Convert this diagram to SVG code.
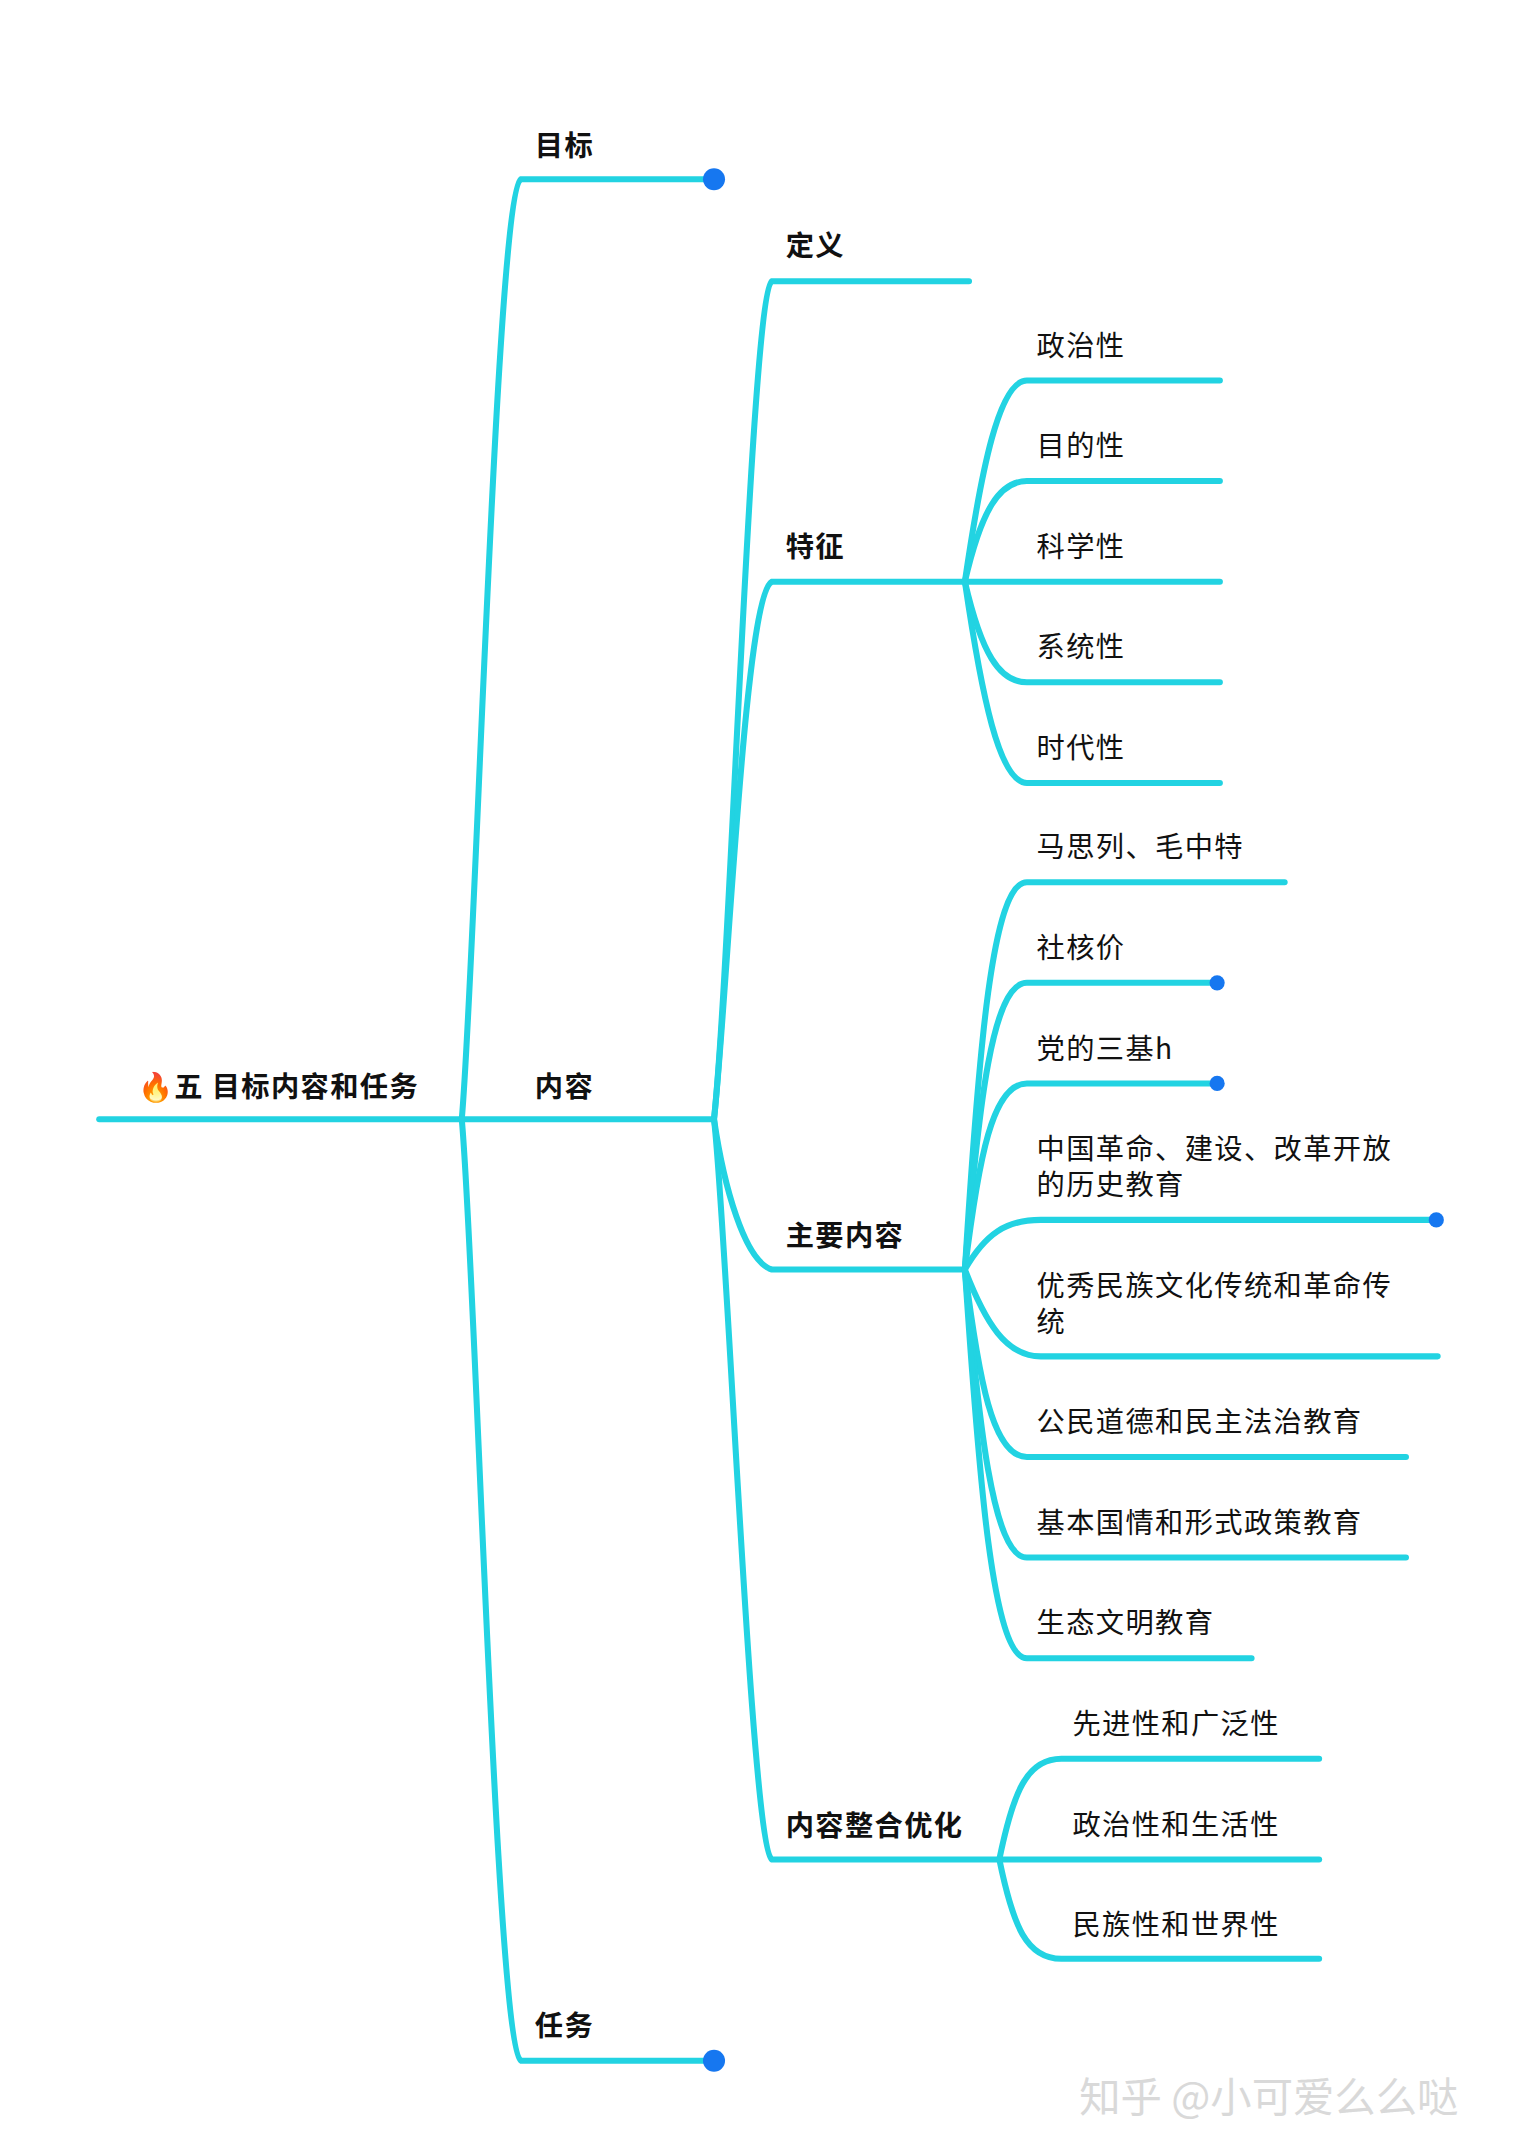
<svg xmlns="http://www.w3.org/2000/svg" width="1530" height="2152" viewBox="0 0 1530 2152">
<style>
.l{fill:none;stroke:#22d3e2;stroke-width:4.4;stroke-linecap:round}
.t{font-family:"Noto Sans CJK SC","Noto Sans",sans-serif;font-size:20.5px;letter-spacing:1px;fill:#111}
.b{font-weight:600}
.d{fill:#1677f0}
</style>
<rect width="1530" height="2152" fill="#fff"/>
<g transform="scale(1.3784)">
<g id="connectors">
<path class="l" d="M72 812 L518 812"/>
<path class="l" d="M335 812 C345 700 360 140 378 130 L518 130"/>
<path class="l" d="M335 812 C345 920 360 1485 378 1495 L518 1495"/>
<path class="l" d="M518 812 C530 700 545 214 560 204 L703 204"/>
<path class="l" d="M518 812 C528 720 540 432 560 422 L700 422"/>
<path class="l" d="M518 812 C525 860 540 915 560 921 L700 921"/>
<path class="l" d="M518 812 C528 900 545 1339 560 1349 L725 1349"/>
<path class="l" d="M700 422 C712 340 725 276 745 276 L885 276"/>
<path class="l" d="M700 422 C712 370 725 349 745 349 L885 349"/>
<path class="l" d="M700 422 L885 422"/>
<path class="l" d="M700 422 C712 474 725 495 745 495 L885 495"/>
<path class="l" d="M700 422 C712 504 725 568 745 568 L885 568"/>
<path class="l" d="M700 921 C710 760 720 640 745 640 L932 640"/>
<path class="l" d="M700 921 C710 800 720 713 745 713 L883 713"/>
<path class="l" d="M700 921 C710 840 720 786 745 786 L883 786"/>
<path class="l" d="M700 921 C715 895 730 885 755 885 L1042 885"/>
<path class="l" d="M700 921 C715 960 730 984 755 984 L1043 984"/>
<path class="l" d="M700 921 C710 1000 720 1057 745 1057 L1020 1057"/>
<path class="l" d="M700 921 C710 1030 720 1130 745 1130 L1020 1130"/>
<path class="l" d="M700 921 C710 1070 720 1203 745 1203 L908 1203"/>
<path class="l" d="M725 1349 C735 1300 745 1276 770 1276 L957 1276"/>
<path class="l" d="M725 1349 L957 1349"/>
<path class="l" d="M725 1349 C735 1398 745 1421 770 1421 L957 1421"/>
</g>
<circle class="d" cx="518" cy="130" r="8"/>
<circle class="d" cx="518" cy="1495" r="8"/>
<circle class="d" cx="883" cy="713" r="5.5"/>
<circle class="d" cx="883" cy="786" r="5.5"/>
<circle class="d" cx="1042" cy="885" r="5.5"/>
<g id="root"><text class="t b" x="100" y="796">🔥五 目标内容和任务</text></g>
<g id="n-mubiao"><text class="t b" x="388" y="113">目标</text></g>
<g id="n-neirong"><text class="t b" x="388" y="796">内容</text></g>
<g id="n-renwu"><text class="t b" x="388" y="1477">任务</text></g>
<g id="n-dingyi"><text class="t b" x="570" y="186">定义</text></g>
<g id="n-tezheng"><text class="t b" x="570" y="404">特征</text></g>
<g id="n-zhuyao"><text class="t b" x="570" y="904">主要内容</text></g>
<g id="n-zhenghe"><text class="t b" x="570" y="1332">内容整合优化</text></g>
<g id="n-a1"><text class="t" x="752" y="258">政治性</text></g>
<g id="n-a2"><text class="t" x="752" y="331">目的性</text></g>
<g id="n-a3"><text class="t" x="752" y="404">科学性</text></g>
<g id="n-a4"><text class="t" x="752" y="477">系统性</text></g>
<g id="n-a5"><text class="t" x="752" y="550">时代性</text></g>
<g id="n-b1"><text class="t" x="752" y="622">马思列、毛中特</text></g>
<g id="n-b2"><text class="t" x="752" y="695">社核价</text></g>
<g id="n-b3"><text class="t" x="752" y="768">党的三基h</text></g>
<g id="n-b4"><text class="t" x="752" y="841">中国革命、建设、改革开放<tspan x="752" dy="26">的历史教育</tspan></text></g>
<g id="n-b5"><text class="t" x="752" y="940">优秀民族文化传统和革命传<tspan x="752" dy="26">统</tspan></text></g>
<g id="n-b6"><text class="t" x="752" y="1039">公民道德和民主法治教育</text></g>
<g id="n-b7"><text class="t" x="752" y="1112">基本国情和形式政策教育</text></g>
<g id="n-b8"><text class="t" x="752" y="1185">生态文明教育</text></g>
<g id="n-c1"><text class="t" x="778" y="1258">先进性和广泛性</text></g>
<g id="n-c2"><text class="t" x="778" y="1331">政治性和生活性</text></g>
<g id="n-c3"><text class="t" x="778" y="1404">民族性和世界性</text></g>
<text x="783" y="1532" font-family="Noto Sans CJK SC,sans-serif" font-size="30" fill="#d9d9d9">知乎 @小可爱么么哒</text>
</g>
</svg>
